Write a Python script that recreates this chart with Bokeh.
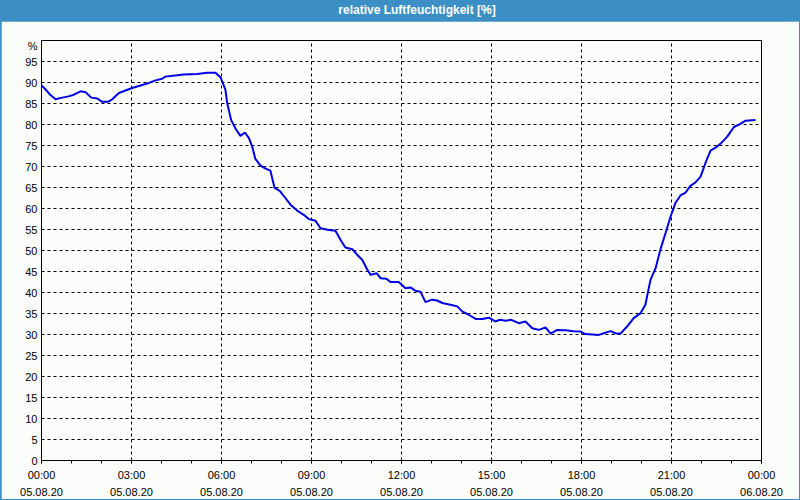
from bokeh.plotting import figure
from bokeh.models import Range1d, FixedTicker, LinearAxis, Div
from bokeh.layouts import column
from bokeh.embed import file_html
from bokeh.resources import INLINE

# ---- data (hours since 05.08.20 00:00, relative humidity %) ----
hours = [0.00, 0.13, 0.30, 0.47, 0.69, 0.90, 1.08, 1.30, 1.47, 1.66, 1.86, 2.02, 2.21, 2.36,
         2.58, 2.80, 3.02, 3.30, 3.58, 3.80, 4.02, 4.13, 4.52, 4.74, 5.19, 5.52, 5.80, 5.97,
         6.13, 6.19, 6.32, 6.47, 6.63, 6.78, 6.91, 7.02, 7.13, 7.30, 7.47, 7.63, 7.77, 7.94,
         8.13, 8.30, 8.52, 8.74, 8.91, 9.13, 9.30, 9.58, 9.80, 9.97, 10.13, 10.36, 10.52,
         10.69, 10.86, 10.97, 11.17, 11.30, 11.50, 11.63, 11.91, 12.13, 12.30, 12.47, 12.63,
         12.80, 13.02, 13.19, 13.36, 13.63, 13.86, 14.02, 14.24, 14.47, 14.69, 14.91, 15.13,
         15.28, 15.47, 15.66, 15.91, 16.13, 16.36, 16.58, 16.80, 16.97, 17.19, 17.47, 17.74,
         17.97, 18.13, 18.58, 18.74, 18.97, 19.13, 19.30, 19.52, 19.74, 19.97, 20.13, 20.21,
         20.30, 20.47, 20.63, 20.80, 20.97, 21.13, 21.30, 21.47, 21.63, 21.80, 21.97, 22.13,
         22.30, 22.47, 22.63, 22.86, 23.08, 23.28, 23.47, 23.80]
humidity = [89.3, 88.4, 87.0, 86.0, 86.4, 86.7, 87.1, 87.9, 87.7, 86.4, 86.2, 85.4, 85.4, 86.0,
            87.5, 88.1, 88.7, 89.3, 89.9, 90.5, 90.9, 91.4, 91.7, 91.9, 92.0, 92.3, 92.3, 91.2,
            88.3, 85.1, 81.1, 79.0, 77.3, 78.1, 76.8, 74.8, 71.8, 70.2, 69.5, 69.0, 64.9, 64.2,
            62.5, 60.9, 59.5, 58.5, 57.5, 57.1, 55.3, 54.9, 54.7, 52.5, 50.7, 50.3, 49.0,
            47.8, 45.4, 44.2, 44.6, 43.4, 43.3, 42.5, 42.5, 41.0, 41.2, 40.4, 40.2,
            37.7, 38.3, 38.1, 37.5, 37.1, 36.7, 35.5, 34.7, 33.7, 33.7, 34.0, 33.1,
            33.5, 33.3, 33.5, 32.7, 33.1, 31.5, 31.1, 31.7, 30.2, 31.1, 31.0, 30.8,
            30.7, 30.1, 29.9, 30.3, 30.8, 30.3, 30.2, 31.9, 33.9, 35.1, 37.1, 39.9,
            43.0, 45.8, 50.2, 54.1, 58.1, 61.3, 63.1, 63.8, 65.4, 66.2, 67.6, 70.8,
            73.8, 74.5, 75.4, 77.1, 79.4, 80.1, 80.9, 81.1]

x_ticks = [0, 3, 6, 9, 12, 15, 18, 21, 24]
time_labels = ["00:00", "03:00", "06:00", "09:00", "12:00", "15:00", "18:00", "21:00", "00:00"]
date_labels = ["05.08.20"] * 8 + ["06.08.20"]
y_ticks = list(range(0, 100, 5))
unit_text = "%"
unit_pos = 98.6
title_text = "relative Luftfeuchtigkeit [%]"

BLUE = "#3C8FC5"
BG = "#FBFDFB"
FONT = "Liberation Sans"

p = figure(width=798, height=478, x_range=Range1d(0, 24), y_range=Range1d(0, 100),
           output_backend="svg", toolbar_location=None,
           min_border_left=40, min_border_right=38, min_border_top=19, min_border_bottom=39,
           background_fill_color=BG, border_fill_color=BG, margin=(0, 1, 1, 1))
p.outline_line_color = "black"
p.outline_line_alpha = 1.0

p.line(hours, humidity, line_color="#0000E6", line_width=2)

# grids
p.xgrid.ticker = FixedTicker(ticks=x_ticks[1:-1])
p.ygrid.ticker = FixedTicker(ticks=y_ticks[1:])
for g in (p.xgrid, p.ygrid):
    g.grid_line_color = "black"
    g.grid_line_dash = "3 3"
    g.grid_line_width = 1

# x axis (times)
xa = p.xaxis[0]
xa.ticker = FixedTicker(ticks=x_ticks, minor_ticks=list(range(0, 25)))
xa.major_label_overrides = {t: l for t, l in zip(x_ticks, time_labels)}
xa.major_tick_out = 3
xa.major_tick_in = 0
xa.minor_tick_out = 3
xa.minor_tick_in = 0
xa.major_label_standoff = 5

# x axis (dates)
xa2 = LinearAxis(ticker=FixedTicker(ticks=x_ticks, minor_ticks=[]))
xa2.major_label_overrides = {t: l for t, l in zip(x_ticks, date_labels)}
xa2.major_tick_line_color = None
xa2.minor_tick_line_color = None
xa2.major_tick_out = 0
xa2.major_tick_in = 0
xa2.major_label_standoff = 4
p.add_layout(xa2, "below")

# y axis (with the unit shown at the top)
ya = p.yaxis[0]
ya.ticker = FixedTicker(ticks=y_ticks + [unit_pos], minor_ticks=[])
ya.major_label_overrides = {unit_pos: unit_text}
ya.major_tick_out = 0
ya.major_tick_in = 0
ya.major_label_standoff = 4

for ax in (xa, xa2, ya):
    ax.major_label_text_font = FONT
    ax.major_label_text_font_size = "11px"
    ax.major_label_text_color = "black"
xa.axis_line_color = "black"
ya.axis_line_color = "black"
xa2.axis_line_color = None

title = Div(text=('<div style="width:800px;height:21px;line-height:21px;text-align:center;'
                  'padding-left:34px;box-sizing:border-box;color:white;font-weight:bold;'
                  'font-size:12px;font-family:\'Liberation Sans\';">' + title_text + '</div>'),
            width=800, height=21, margin=0, styles={"background-color": BLUE})

layout = column(title, p, spacing=0, margin=0, styles={"background-color": BLUE})

open("out.html", "w").write(file_html(layout, INLINE))
